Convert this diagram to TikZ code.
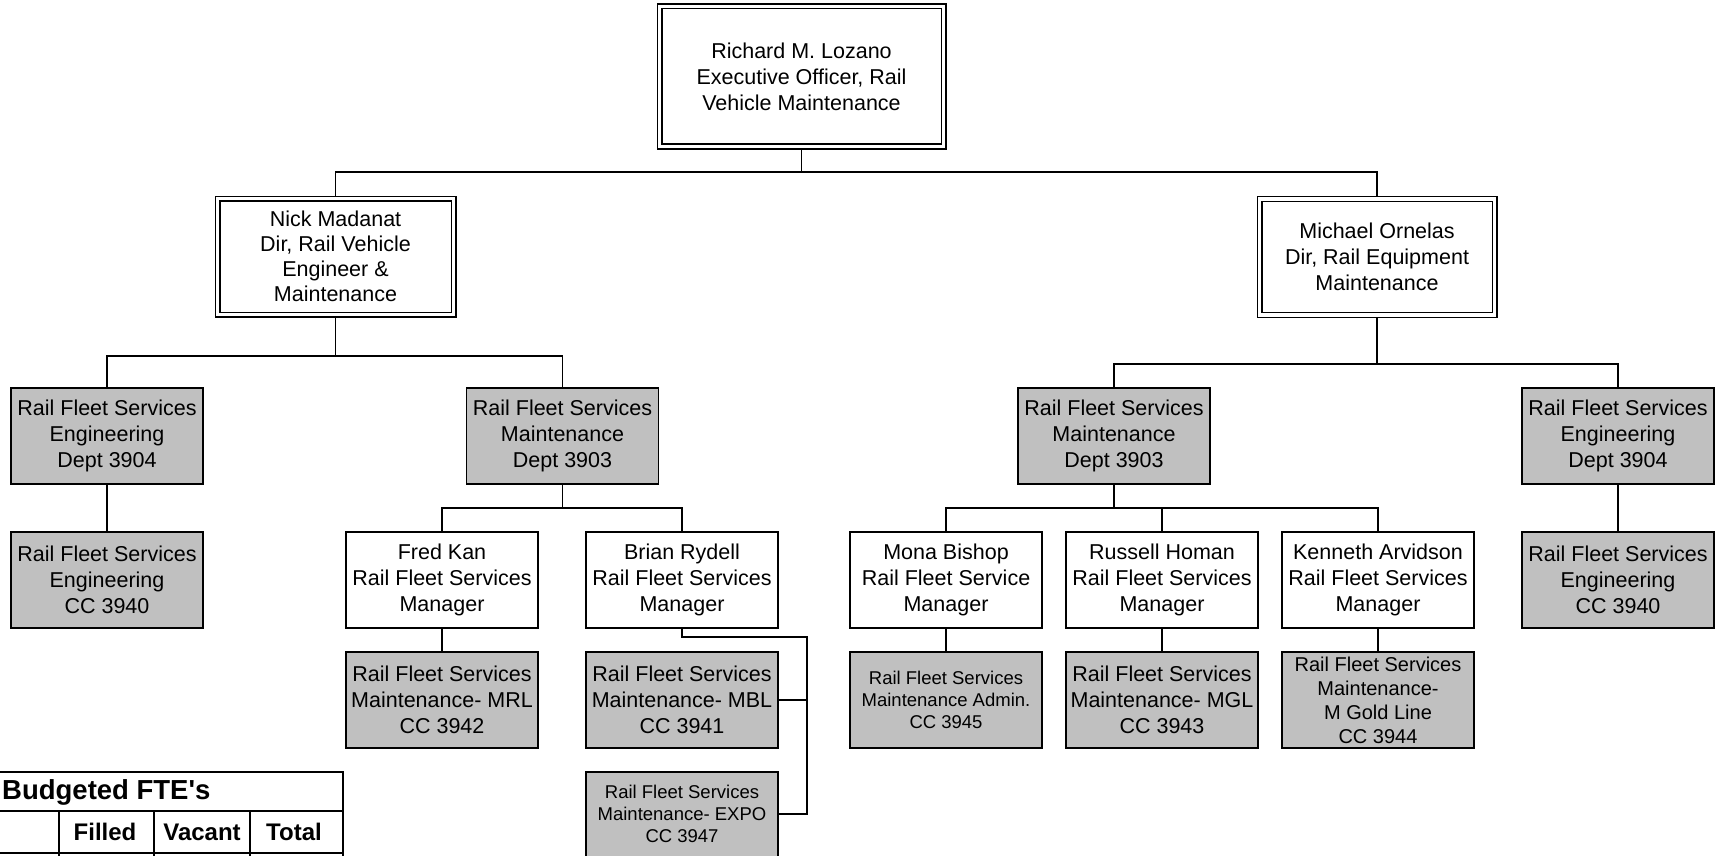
\documentclass[tikz,border=0pt]{standalone}
\usepackage{fontspec}
\setmainfont{Liberation Sans}
\newfontfamily\tblfont{Liberation Sans}[Ligatures=TeXOff]
\usetikzlibrary{backgrounds}
\definecolor{boxgray}{HTML}{C0C0C0}
\tikzset{
  base/.style={draw=black, line width=1.6pt, align=center, inner sep=0pt, font=\fontsize{21.5}{26}\selectfont},
  wbox/.style={base, fill=white, minimum width=192pt, minimum height=96pt},
  gbox/.style={base, fill=boxgray, minimum width=192pt, minimum height=96pt},
  dbox/.style={base, fill=white, double, double distance=3.4pt, line width=1.3pt},
  smalltxt/.style={font=\fontsize{18.5}{22}\selectfont},
  conn/.style={line width=1.6pt},
  tline/.style={line width=2pt},
  ttitle/.style={inner sep=0pt, font=\tblfont\bfseries\fontsize{27.5}{30}\selectfont},
  thead/.style={inner sep=0pt, font=\tblfont\bfseries\fontsize{24}{28}\selectfont},
}
\begin{document}
\begin{tikzpicture}[x=1pt,y=-1pt]
\useasboundingbox (0,0) rectangle (1726,856);
% level 1
\node[dbox, minimum width=284pt, minimum height=140pt] (ceo) at (801.5,76.5) {Richard M. Lozano\\Executive Officer, Rail\\Vehicle Maintenance};
% level 2
\node[dbox, minimum width=236pt, minimum height=116pt, font=\fontsize{21.5}{25}\selectfont] (nick) at (335.5,256.5) {Nick Madanat\\Dir, Rail Vehicle\\Engineer \&\\Maintenance};
\node[dbox, minimum width=235pt, minimum height=116pt] (mich) at (1377,257) {Michael Ornelas\\Dir, Rail Equipment\\Maintenance};
% level 3
\node[gbox] (engL) at (107,436) {Rail Fleet Services\\Engineering\\Dept 3904};
\node[gbox] (mntL) at (562.5,436) {Rail Fleet Services\\Maintenance\\Dept 3903};
\node[gbox] (mntR) at (1114,436) {Rail Fleet Services\\Maintenance\\Dept 3903};
\node[gbox] (engR) at (1618,436) {Rail Fleet Services\\Engineering\\Dept 3904};
% level 4
\node[gbox] (engccL) at (107,580) {Rail Fleet Services\\Engineering\\CC 3940};
\node[wbox] (fred) at (442,580) {Fred Kan\\Rail Fleet Services\\Manager};
\node[wbox] (brian) at (682,580) {Brian Rydell\\Rail Fleet Services\\Manager};
\node[wbox] (mona) at (946,580) {Mona Bishop\\Rail Fleet Service\\Manager};
\node[wbox] (russ) at (1162,580) {Russell Homan\\Rail Fleet Services\\Manager};
\node[wbox] (kenn) at (1378,580) {Kenneth Arvidson\\Rail Fleet Services\\Manager};
\node[gbox] (engccR) at (1618,580) {Rail Fleet Services\\Engineering\\CC 3940};
% level 5
\node[gbox] (mrl) at (442,700) {Rail Fleet Services\\Maintenance- MRL\\CC 3942};
\node[gbox] (mbl) at (682,700) {Rail Fleet Services\\Maintenance- MBL\\CC 3941};
\node[gbox, smalltxt] (admin) at (946,700) {Rail Fleet Services\\Maintenance Admin.\\CC 3945};
\node[gbox] (mgl) at (1162,700) {Rail Fleet Services\\Maintenance- MGL\\CC 3943};
\node[gbox, font=\fontsize{20}{24}\selectfont] (gold) at (1378,700) {Rail Fleet Services\\Maintenance-\\M Gold Line\\CC 3944};
% EXPO (cut by the page edge)
\node[gbox, minimum height=104pt] (expo) at (682,824) {};
\node[smalltxt, align=center, inner sep=0pt] (expotxt) at (682,814) {Rail Fleet Services\\Maintenance- EXPO\\CC 3947};
% connectors
\begin{pgfonlayer}{background}
\coordinate (topbar) at (801.5,172);
\draw[conn] (ceo.south) -- (topbar);
\draw[conn] (nick.north) |- (topbar) -| (mich.north);
\coordinate (nbar) at (335.5,356);
\draw[conn] (nick.south) -- (nbar);
\draw[conn] (engL.north) |- (nbar) -| (mntL.north);
\draw[conn] (engL.south) -- (engccL.north);
\coordinate (lbar) at (562.5,508);
\draw[conn] (mntL.south) -- (lbar);
\draw[conn] (fred.north) |- (lbar) -| (brian.north);
\draw[conn] (fred.south) -- (mrl.north);
\coordinate (bj) at (807,637);
\draw[conn] (brian.south) |- (bj) -- (bj |- expotxt) -- (expotxt -| expo.east);
\draw[conn] (bj |- mbl.east) -- (mbl.east);
\coordinate (mbar) at (1377,364);
\draw[conn] (mich.south) -- (mbar);
\draw[conn] (mntR.north) |- (mbar) -| (engR.north);
\draw[conn] (engR.south) -- (engccR.north);
\coordinate (rbar) at (1114,508);
\draw[conn] (mntR.south) -- (rbar);
\draw[conn] (mona.north) |- (rbar) -| (kenn.north);
\draw[conn] (russ.north) -- (russ.north |- rbar);
\draw[conn] (mona.south) -- (admin.north);
\draw[conn] (russ.south) -- (mgl.north);
\draw[conn] (kenn.south) -- (gold.north);
\end{pgfonlayer}
% FTE table (cut by the page edges)
\coordinate (tTL) at (-6,772);
\coordinate (tTR) at (343,772);
\coordinate (tBR) at (343,862);
\draw[tline] (tTL) -- (tTR) -- (tBR);
\draw[tline] (-6,811) -- (343,811);
\draw[tline] (-6,853) -- (343,853);
\draw[tline] (59,811) -- (59,862);
\draw[tline] (154,811) -- (154,862);
\draw[tline] (250,811) -- (250,862);
\node[ttitle, anchor=west] (fte) at (2,792) {Budgeted FTE's};
\node[thead] (filled) at (105,832) {Filled};
\node[thead] (vacant) at (202,832) {Vacant};
\node[thead] (total) at (294,832) {Total};
\end{tikzpicture}
\end{document}
